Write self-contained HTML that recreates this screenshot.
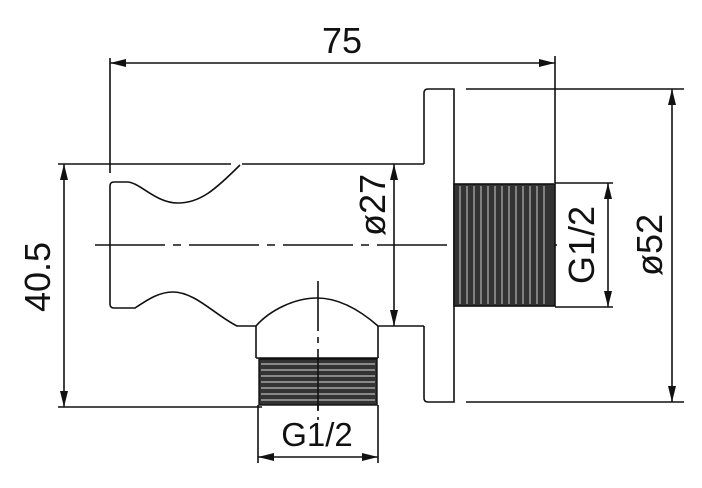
<!DOCTYPE html>
<html><head><meta charset="utf-8"><style>
html,body{margin:0;padding:0;background:#fff}
svg{display:block}
text{font-family:"Liberation Sans",sans-serif;fill:#111}
</style></head><body>
<svg width="702" height="488" viewBox="0 0 702 488" xmlns="http://www.w3.org/2000/svg">
<defs>
<marker id="a" markerWidth="16" markerHeight="8" refX="16" refY="4" orient="auto" markerUnits="userSpaceOnUse"><path d="M0,0 L16,4 L0,8 Z" fill="#111"/></marker>
<marker id="b" markerWidth="16" markerHeight="8" refX="0" refY="4" orient="auto" markerUnits="userSpaceOnUse"><path d="M16,0 L0,4 L16,8 Z" fill="#111"/></marker>
</defs>
<g stroke="#111" stroke-width="1.6" fill="none">
<line x1="110" y1="58" x2="110" y2="173"/>
<line x1="555" y1="56" x2="555" y2="183"/>
<line x1="110" y1="63" x2="555" y2="63" marker-start="url(#b)" marker-end="url(#a)"/>
<line x1="58" y1="164" x2="231" y2="164"/>
<line x1="242" y1="164" x2="424" y2="164"/>
<path d="M240,165 C215,190 200,203 178,203 C155,203 140,182 127,182 L114,182 Q110,182 110,186 L110,304 Q110,308 114,308 L135,308 C150,298 160,292 173,292 C195,292 215,315 237,326 L256,326 C270,310 295,298 317,298 C340,298 362,312 378,326 L424,326"/>
<path d="M256,326 L256,358 M378,326 L378,358 M256,358 L378,358"/>
<path d="M424,164 L424,93 Q424,89 428,89 L454,89 L454,402 L428,402 Q424,402 424,398 L424,326"/>
<line x1="95" y1="245" x2="560" y2="245" stroke-dasharray="70,8,8,8"/>
<line x1="318" y1="281" x2="318" y2="420" stroke-dasharray="50,6,6,6"/>
<line x1="394" y1="164" x2="394" y2="326" marker-start="url(#b)" marker-end="url(#a)"/>
<line x1="64" y1="164" x2="64" y2="407" marker-start="url(#b)" marker-end="url(#a)"/>
<line x1="58" y1="407" x2="262" y2="407"/>
<line x1="258" y1="405" x2="258" y2="463"/>
<line x1="378" y1="405" x2="378" y2="463"/>
<line x1="258" y1="457" x2="378" y2="457" marker-start="url(#b)" marker-end="url(#a)"/>
<line x1="555" y1="183" x2="613" y2="183"/>
<line x1="555" y1="307" x2="613" y2="307"/>
<line x1="608" y1="183" x2="608" y2="307" marker-start="url(#b)" marker-end="url(#a)"/>
<line x1="466" y1="89" x2="684" y2="89"/>
<line x1="466" y1="402" x2="684" y2="402"/>
<line x1="672" y1="89" x2="672" y2="402" marker-start="url(#b)" marker-end="url(#a)"/>
</g>
<g>
<rect x="454" y="184" width="101" height="122" fill="#333" stroke="#111" stroke-width="1.6"/>
<path d="M460,186 V304 M467,186 V304 M474,186 V304 M481,186 V304 M488,186 V304 M495,186 V304 M502,186 V304 M509,186 V304 M516,186 V304 M523,186 V304 M530,186 V304 M537,186 V304 M544,186 V304" stroke="#ddd" stroke-width="0.9"/>
</g>
<g>
<rect x="259" y="359" width="118" height="46" fill="#333" stroke="#111" stroke-width="1.4"/>
<path d="M261,364 H375 M261,370 H375 M261,376 H375 M261,382 H375 M261,388 H375 M261,394 H375 M261,400 H375" stroke="#ddd" stroke-width="0.9"/>
<line x1="318" y1="359" x2="318" y2="410" stroke="#111" stroke-width="1.6"/>
</g>
<text x="342" y="53" font-size="36" text-anchor="middle">75</text>
<text x="317" y="446" font-size="33" text-anchor="middle">G1/2</text>
<text transform="translate(50,277) rotate(-90)" font-size="36" text-anchor="middle">40.5</text>
<text transform="translate(385,205) rotate(-90)" font-size="36" text-anchor="middle">ø27</text>
<text transform="translate(594,245) rotate(-90)" font-size="36" text-anchor="middle">G1/2</text>
<text transform="translate(662,245) rotate(-90)" font-size="36" text-anchor="middle">ø52</text>
</svg>
</body></html>
